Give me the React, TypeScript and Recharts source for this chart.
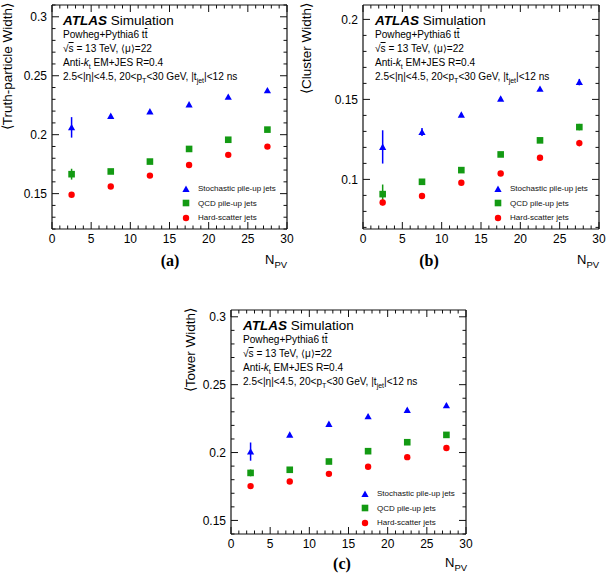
import React from "react";
import { ScatterChart, Scatter, XAxis, YAxis, ErrorBar, Legend } from "recharts";

// bin centres in N_PV
const NPV = [2.5, 7.5, 12.5, 17.5, 22.5, 27.5];
const X_TICKS = [0, 1, 2, 3, 4, 5, 6, 7, 8, 9, 10, 11, 12, 13, 14, 15, 16, 17, 18, 19, 20, 21, 22, 23, 24, 25, 26, 27, 28, 29, 30];
const X_LABELS = [0, 5, 10, 15, 20, 25, 30];

// (a) truth-particle width
const A_STOCH = [0.2062, 0.2159, 0.2197, 0.2257, 0.2321, 0.2376];
const A_STOCH_ERR = [0.0087, 0.0012, 0.0012, 0.0012, 0.0012, 0.0012];
const A_QCD = [0.1665, 0.1688, 0.1772, 0.1879, 0.1957, 0.2043];
const A_QCD_ERR = [0.0046, 0.0015, 0.0015, 0.0015, 0.0015, 0.0015];
const A_HS = [0.1491, 0.1561, 0.1653, 0.1743, 0.1829, 0.1899];
const A_HS_ERR = [0.0012, 0.001, 0.001, 0.001, 0.001, 0.001];
const A_Y_TICKS = [0.12, 0.13, 0.14, 0.15, 0.16, 0.17, 0.18, 0.19, 0.2, 0.21, 0.22, 0.23, 0.24, 0.25, 0.26, 0.27, 0.28, 0.29, 0.3, 0.31];
const A_Y_LABELS = [0.15, 0.2, 0.25, 0.3];

// (b) cluster width
const B_STOCH = [0.1203, 0.1296, 0.1404, 0.1504, 0.1566, 0.1608];
const B_STOCH_ERR = [0.0104, 0.0025, 0.0012, 0.0012, 0.0012, 0.002];
const B_QCD = [0.0908, 0.0985, 0.1058, 0.1156, 0.1244, 0.1327];
const B_QCD_ERR = [0.006, 0.0012, 0.0012, 0.0012, 0.0012, 0.002];
const B_HS = [0.0856, 0.0896, 0.0979, 0.1037, 0.1135, 0.1227];
const B_HS_ERR = [0.0018, 0.001, 0.001, 0.001, 0.001, 0.002];
const B_Y_TICKS = [0.07, 0.08, 0.09, 0.1, 0.11, 0.12, 0.13, 0.14, 0.15, 0.16, 0.17, 0.18, 0.19, 0.2];
const B_Y_LABELS = [0.1, 0.15, 0.2];

// (c) tower width
const C_STOCH = [0.2007, 0.2132, 0.2211, 0.2267, 0.2314, 0.2348];
const C_STOCH_ERR = [0.0067, 0.0012, 0.0012, 0.0012, 0.0012, 0.0012];
const C_QCD = [0.185, 0.1873, 0.1934, 0.201, 0.2076, 0.213];
const C_QCD_ERR = [0.0025, 0.001, 0.001, 0.001, 0.001, 0.0015];
const C_HS = [0.1753, 0.1787, 0.1843, 0.1895, 0.1966, 0.2034];
const C_HS_ERR = [0.001, 0.001, 0.001, 0.001, 0.001, 0.001];
const C_Y_TICKS = [0.14, 0.15, 0.16, 0.17, 0.18, 0.19, 0.2, 0.21, 0.22, 0.23, 0.24, 0.25, 0.26, 0.27, 0.28, 0.29, 0.3];
const C_Y_LABELS = [0.15, 0.2, 0.25, 0.3];

const SERIES = [
  { key: "stoch", name: "Stochastic pile-up jets", color: "#0000ff", kind: "triangle" },
  { key: "qcd", name: "QCD pile-up jets", color: "#139a13", kind: "square" },
  { key: "hs", name: "Hard-scatter jets", color: "#ff0000", kind: "circle" },
];

const SANS = "'Liberation Sans', Arial, Helvetica, sans-serif";
const SERIF = "'Liberation Serif', 'Times New Roman', serif";
const FRAME = "#111";

function Marker({ kind, cx, cy, color }: any) {
  if (cx == null || cy == null) return null;
  if (kind === "triangle")
    return <polygon points={`${cx - 3.6},${cy + 3} ${cx + 3.6},${cy + 3} ${cx},${cy - 3.4}`} fill={color} />;
  if (kind === "square") return <rect x={cx - 3.3} y={cy - 3.3} width={6.6} height={6.6} fill={color} />;
  return <circle cx={cx} cy={cy} r={3.2} fill={color} />;
}

const isMajor = (labels: number[], v: number) => labels.some((m) => Math.abs(m - v) < 1e-9);

function makeTick(side: string, labels: number[]) {
  return (props: any) => {
    const { x, y, payload } = props;
    const v = payload.value;
    const major = isMajor(labels, v);
    const len = major ? 7 : 3.5;
    let x2 = x;
    let y2 = y;
    if (side === "bottom") y2 = y - len;
    if (side === "top") y2 = y + len;
    if (side === "left") x2 = x + len;
    if (side === "right") x2 = x - len;
    return (
      <g>
        <line x1={x} y1={y} x2={x2} y2={y2} stroke={FRAME} strokeWidth={1} />
        {major && side === "bottom" && (
          <text x={x} y={y + 14} textAnchor="middle" fontSize={12} fontFamily={SANS} fill="#000">
            {String(v)}
          </text>
        )}
        {major && side === "left" && (
          <text x={x - 5} y={y + 4.3} textAnchor="end" fontSize={12} fontFamily={SANS} fill="#000">
            {String(v)}
          </text>
        )}
      </g>
    );
  };
}

function LegendBox() {
  return (
    <div style={{ fontFamily: SANS, fontSize: 8, color: "#111" }}>
      {SERIES.map((s) => (
        <div key={s.key} style={{ height: 14.5, display: "flex", alignItems: "center", whiteSpace: "nowrap" }}>
          <svg width={12} height={14} style={{ marginRight: 6 }}>
            <Marker kind={s.kind} cx={6} cy={7} color={s.color} />
          </svg>
          <span>{s.name}</span>
        </div>
      ))}
    </div>
  );
}

const axisCommon = {
  type: "number" as const,
  allowDataOverflow: true,
  interval: 0 as const,
  tickSize: 0,
  tickMargin: 0,
  tickLine: false,
  axisLine: { stroke: FRAME, strokeWidth: 1.2 },
};

function Panel({ left, top, width, height, mTop, mRight, yW, xH, domain, yTicks, yLabels, values }: any) {
  const plotRight = width - mRight;
  const plotBottom = height - xH;
  const frameData = NPV.map((x: number, j: number) => ({ x, y: values[0][0][j] }));
  return (
    <div style={{ position: "absolute", left, top }}>
      <ScatterChart width={width} height={height} margin={{ top: mTop - 1, right: mRight - 1, bottom: 0, left: 0 }}>
        <XAxis {...axisCommon} xAxisId="b" dataKey="x" domain={[0, 30]} ticks={X_TICKS} height={xH} tick={makeTick("bottom", X_LABELS)} />
        <XAxis {...axisCommon} xAxisId="t" dataKey="x" orientation="top" domain={[0, 30]} ticks={X_TICKS} height={1} tick={makeTick("top", X_LABELS)} />
        <YAxis {...axisCommon} yAxisId="l" dataKey="y" domain={domain} ticks={yTicks} width={yW} tick={makeTick("left", yLabels)} />
        <YAxis {...axisCommon} yAxisId="r" dataKey="y" orientation="right" domain={domain} ticks={yTicks} width={1} tick={makeTick("right", yLabels)} />
        {/* invisible series so the mirrored top/right axes get drawn */}
        <Scatter
          data={frameData}
          xAxisId="t"
          yAxisId="r"
          legendType="none"
          isAnimationActive={false}
          shape={() => <g />}
        />
        {SERIES.map((s, i) => {
          const [vals, errs] = values[i];
          const data = NPV.map((x: number, j: number) => ({ x, y: vals[j], e: errs[j] }));
          return (
            <Scatter
              key={s.key}
              name={s.name}
              data={data}
              xAxisId="b"
              yAxisId="l"
              fill={s.color}
              isAnimationActive={false}
              shape={(p: any) => <Marker kind={s.kind} cx={p.cx} cy={p.cy} color={s.color} />}
            >
              <ErrorBar dataKey="e" direction="y" width={0} stroke={s.color} strokeWidth={1.5} isAnimationActive={false} />
            </Scatter>
          );
        })}
        <Legend
          layout="vertical"
          align="center"
          verticalAlign="middle"
          wrapperStyle={{ left: plotRight - 107, top: plotBottom - 47.5, width: 112, height: 44 }}
          content={() => <LegendBox />}
        />
      </ScatterChart>
    </div>
  );
}

function Line({ x, baseline, size, children, style }: any) {
  return (
    <div
      style={{
        position: "absolute",
        left: x,
        top: baseline - 0.85 * size,
        fontSize: size,
        lineHeight: `${size}px`,
        fontFamily: SANS,
        whiteSpace: "nowrap",
        color: "#000",
        ...style,
      }}
    >
      {children}
    </div>
  );
}

const Sub = ({ children }: any) => (
  <span style={{ fontSize: "0.7em", position: "relative", top: "0.35em" }}>{children}</span>
);

function Annotation({ x, top }: any) {
  const fs = 10.1;
  return (
    <>
      <Line x={x} baseline={top + 20} size={13.5}>
        <span style={{ fontWeight: "bold", fontStyle: "italic" }}>ATLAS</span> Simulation
      </Line>
      <Line x={x} baseline={top + 34} size={fs}>
        Powheg+Pythia6 t<span style={{ textDecoration: "overline" }}>t</span>
      </Line>
      <Line x={x} baseline={top + 48} size={fs}>
        √<span style={{ textDecoration: "overline" }}>s</span> = 13 TeV, ⟨μ⟩=22
      </Line>
      <Line x={x} baseline={top + 62} size={fs}>
        Anti-<i>k</i>
        <Sub>t</Sub> EM+JES R=0.4
      </Line>
      <Line x={x} baseline={top + 76} size={fs}>
        2.5&lt;|η|&lt;4.5, 20&lt;p<Sub>T</Sub>&lt;30 GeV, |t<Sub>jet</Sub>|&lt;12 ns
      </Line>
    </>
  );
}

function YTitle({ x, top, children }: any) {
  const w = 220;
  return (
    <div
      style={{
        position: "absolute",
        left: x,
        top: top + w,
        width: w,
        textAlign: "right",
        transform: "rotate(-90deg)",
        transformOrigin: "0 0",
        fontFamily: SANS,
        fontSize: 13.5,
        lineHeight: "13.5px",
        whiteSpace: "nowrap",
        color: "#000",
      }}
    >
      {children}
    </div>
  );
}

function XTitle({ x, baseline }: any) {
  return (
    <Line x={x} baseline={baseline} size={13}>
      N<span style={{ fontSize: 9.5, position: "relative", top: 4 }}>PV</span>
    </Line>
  );
}

function Tag({ cx, baseline, children }: any) {
  return (
    <div
      style={{
        position: "absolute",
        left: cx - 30,
        width: 60,
        textAlign: "center",
        top: baseline - 0.85 * 16,
        fontSize: 16,
        lineHeight: "16px",
        fontFamily: SERIF,
        fontWeight: "bold",
      }}
    >
      {children}
    </div>
  );
}

export default function App() {
  return (
    <div style={{ position: "absolute", left: 0, top: 0, width: 607, height: 577, background: "#fff" }}>
      <Panel
        left={0}
        top={0}
        width={300}
        height={290}
        mTop={5}
        mRight={13}
        yW={52}
        xH={61}
        domain={[0.12, 0.31]}
        yTicks={A_Y_TICKS}
        yLabels={A_Y_LABELS}
        values={[
          [A_STOCH, A_STOCH_ERR],
          [A_QCD, A_QCD_ERR],
          [A_HS, A_HS_ERR],
        ]}
      />
      <Panel
        left={300}
        top={0}
        width={307}
        height={290}
        mTop={5}
        mRight={8}
        yW={63}
        xH={61}
        domain={[0.069, 0.209]}
        yTicks={B_Y_TICKS}
        yLabels={B_Y_LABELS}
        values={[
          [B_STOCH, B_STOCH_ERR],
          [B_QCD, B_QCD_ERR],
          [B_HS, B_HS_ERR],
        ]}
      />
      <Panel
        left={150}
        top={290}
        width={330}
        height={287}
        mTop={20}
        mRight={14}
        yW={81}
        xH={43}
        domain={[0.14, 0.305]}
        yTicks={C_Y_TICKS}
        yLabels={C_Y_LABELS}
        values={[
          [C_STOCH, C_STOCH_ERR],
          [C_QCD, C_QCD_ERR],
          [C_HS, C_HS_ERR],
        ]}
      />

      <Annotation x={63} top={5} />
      <Annotation x={375} top={5} />
      <Annotation x={243} top={310} />

      <YTitle x={1} top={3}>⟨Truth-particle Width⟩</YTitle>
      <YTitle x={300} top={3}>⟨Cluster Width⟩</YTitle>
      <YTitle x={184} top={308}>⟨Tower Width⟩</YTitle>

      <XTitle x={265} baseline={264} />
      <XTitle x={577} baseline={264} />
      <XTitle x={445} baseline={567} />

      <Tag cx={170} baseline={267}>(a)</Tag>
      <Tag cx={429} baseline={267}>(b)</Tag>
      <Tag cx={342} baseline={570}>(c)</Tag>
    </div>
  );
}
